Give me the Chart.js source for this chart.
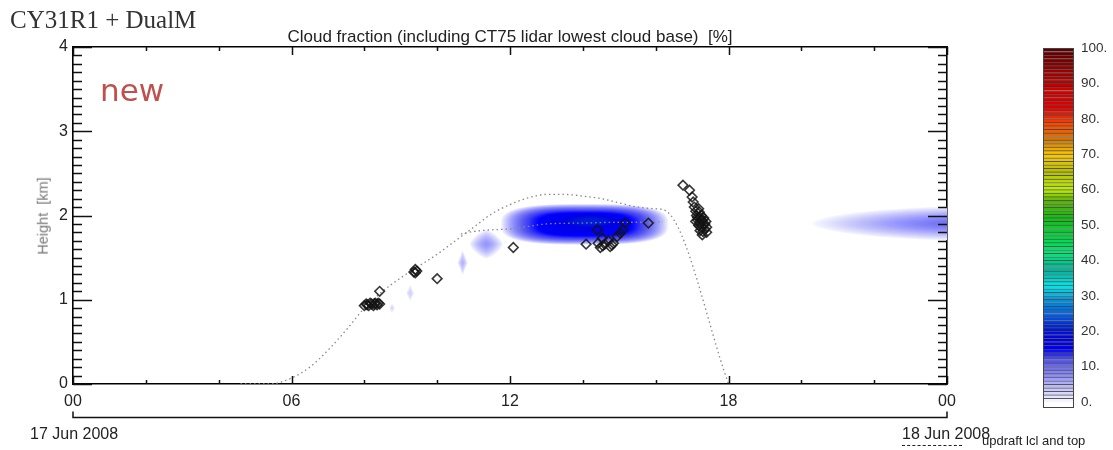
<!DOCTYPE html>
<html lang="en">
<head>
<meta charset="UTF-8">
<title>Cloud fraction</title>
<script src="https://cdn.jsdelivr.net/npm/chart.js"></script>
<style>
  body { margin: 0; background: #fff; }
  #wrap { position: relative; width: 1113px; height: 450px; font-family: "Liberation Sans", Arial, sans-serif; color: #222; overflow: hidden; }
  #main { position: absolute; left: 0; top: 0; }
  #cbar { position: absolute; left: 1000px; top: 0; }
  .txt { position: absolute; white-space: nowrap; }
  #model { left: 10px; top: 7px; font: 25px/25px "Liberation Serif", "Times New Roman", serif; color: #333; }
  #title { left: 510px; top: 28px; font-size: 17px; line-height: 17px; transform: translateX(-50%); }
  #tag { left: 100px; top: 75px; font: 31px/31px "DejaVu Sans", sans-serif; color: #c0504d; }
  #ylab { left: 43px; top: 216px; font-size: 14.5px; line-height: 14.5px; color: #777; transform: translate(-50%, -50%) rotate(-90deg); }
  #day1 { left: 30px; top: 426px; font-size: 16px; line-height: 16px; }
  #day2 { left: 902px; top: 426px; font-size: 16px; line-height: 16px; }
  #legline { position: absolute; left: 902px; top: 445px; width: 60px; border-top: 1px dashed #222; }
  #legtxt { left: 982px; top: 434px; font-size: 13px; line-height: 13px; }
</style>
</head>
<body>
<div id="wrap">
  <canvas id="main" width="1000" height="450"></canvas>
  <canvas id="cbar" width="113" height="450"></canvas>
  <div class="txt" id="model">CY31R1 + DualM</div>
  <div class="txt" id="title">Cloud fraction (including CT75 lidar lowest cloud base)&nbsp; [%]</div>
  <div class="txt" id="tag">new</div>
  <div class="txt" id="ylab">Height&nbsp; [km]</div>
  <div class="txt" id="day1">17 Jun 2008</div>
  <div class="txt" id="day2">18 Jun 2008</div>
  <div id="legline"></div>
  <div class="txt" id="legtxt">updraft lcl and top</div>
</div>

<script>
// axes
const hourTicks = [0, 6, 12, 18, 24];
const hourLabels = ['00', '06', '12', '18', '00'];
const heightTicks = [0, 1, 2, 3, 4];
const cbarTicks = [0, 10, 20, 30, 40, 50, 60, 70, 80, 90, 100];

// model cloud fraction patches (hour, km, %)
const cloudTime = [14.05, 14.2, 11.35, 10.7, 9.26, 8.76, 24.4];
const cloudHeight = [1.895, 1.93, 1.66, 1.44, 1.08, 0.9, 1.905];
const cloudHalfWidth = [2.3, 0.9, 0.46, 0.14, 0.11, 0.08, 4.1];
const cloudHalfDepth = [0.24, 0.09, 0.17, 0.15, 0.1, 0.06, 0.2];
const cloudPeak = [17, 21, 7, 5, 3, 2.5, 10];
const cloudBase = [0, 16, 0, 0, 0, 0, 0];

// lidar lowest cloud base
const baseTime = [8.0, 8.05, 8.08, 8.12, 8.16, 8.2, 8.25, 8.28, 8.3, 8.35, 8.38, 8.42, 8.42,
  9.36, 9.4, 9.44, 9.4, 10.0, 12.09,
  14.09, 14.4, 14.42, 14.53, 14.48, 14.6, 14.55, 14.75, 14.84, 14.7, 14.8, 14.94, 15.03, 15.1, 15.16, 15.8,
  16.75, 16.93, 17.0, 17.03, 17.06, 17.1, 17.2, 17.18, 17.12, 17.22, 17.25, 17.15, 17.28, 17.32,
  17.1, 17.2, 17.3, 17.35, 17.25, 17.18, 17.4, 17.35, 17.22, 17.3, 17.4, 17.28, 17.15, 17.38, 17.24];
const baseHeight = [0.93, 0.95, 0.94, 0.93, 0.96, 0.95, 0.93, 0.95, 0.96, 0.94, 0.96, 0.95, 1.10,
  1.33, 1.36, 1.34, 1.32, 1.25, 1.62,
  1.66, 1.83, 1.67, 1.73, 1.62, 1.66, 1.64, 1.63, 1.67, 1.7, 1.65, 1.75, 1.79, 1.83, 1.91, 1.91,
  2.36, 2.30, 2.22, 2.16, 2.10, 2.05, 2.04, 2.08, 2.00, 1.98, 2.0, 1.95, 1.94, 1.97,
  1.93, 1.91, 1.89, 1.9, 1.86, 1.88, 1.86, 1.84, 1.82, 1.81, 1.8, 1.77, 1.98, 1.93, 1.95];

// updraft top and lcl
const topTime = [4.6, 5.4, 6.0, 6.5, 7.0, 7.5, 8.0, 8.5, 9.0, 9.5, 10.0, 10.5, 11.0, 11.5, 12.0, 12.5, 13.0, 13.5, 14.0, 14.5, 15.0, 15.5, 16.0, 16.3, 18.0];
const topHeight = [0, 0, 0.07, 0.2, 0.4, 0.64, 0.9, 1.1, 1.26, 1.4, 1.54, 1.7, 1.86, 2.02, 2.13, 2.21, 2.25, 2.25, 2.23, 2.2, 2.15, 2.1, 2.08, 2.05, 0];
const lclTime = [10.65, 11.0, 11.5, 12.0, 12.5, 13.0, 14.0, 15.0, 16.0, 16.2];
const lclHeight = [1.78, 1.81, 1.83, 1.84, 1.87, 1.9, 1.91, 1.92, 1.92, 1.93];

// colour table
const cmapStops = [0, 2, 5, 7, 10, 13, 15, 18, 21, 25, 29, 33, 37, 42, 47, 52, 57, 60, 65, 70, 74, 78, 83, 88, 94, 100];
const cmapColors = [
  [250, 250, 255], [222, 222, 252], [180, 180, 250], [150, 150, 255], [110, 110, 240],
  [60, 60, 245], [0, 0, 255], [0, 0, 225], [0, 30, 215], [0, 100, 235],
  [0, 150, 220], [0, 235, 235], [0, 180, 160], [0, 230, 120], [0, 215, 60],
  [20, 190, 20], [90, 180, 0], [190, 240, 0], [180, 190, 0], [255, 200, 0],
  [210, 120, 0], [255, 80, 0], [225, 0, 0], [210, 0, 0], [150, 0, 0], [90, 0, 0]
];

function cmap(v) {
  let i = 0;
  while (i < cmapStops.length - 2 && v > cmapStops[i + 1]) i++;
  const f = Math.min(1, Math.max(0, (v - cmapStops[i]) / (cmapStops[i + 1] - cmapStops[i])));
  const a = cmapColors[i], b = cmapColors[i + 1];
  return 'rgb(' + a.map((c, k) => Math.round(c + (b[k] - c) * f)).join(',') + ')';
}

// edge = superellipse exponent, slope = how fast the value rises inside
const blobStyle = [
  { edge: 3, slope: 3.5 }, { edge: 2, slope: 2 }, { edge: 1.4, slope: 1.5 },
  { edge: 1, slope: 1.5 }, { edge: 1, slope: 1.5 }, { edge: 1, slope: 1.5 }, { edge: 1.8, slope: 1.4 }
];

const cloudField = {
  id: 'cloudField',
  beforeDatasetsDraw(chart) {
    const { ctx, chartArea: a, scales: { x, y } } = chart;
    ctx.save();
    ctx.beginPath();
    ctx.rect(a.left, a.top, a.right - a.left, a.bottom - a.top);
    ctx.clip();
    cloudTime.forEach((t, i) => {
      const cx = x.getPixelForValue(t);
      const cy = y.getPixelForValue(cloudHeight[i]);
      const rx = x.getPixelForValue(t + cloudHalfWidth[i]) - cx;
      const ry = cy - y.getPixelForValue(cloudHeight[i] + cloudHalfDepth[i]);
      const { edge, slope } = blobStyle[i];
      const lo = cloudBase[i], hi = cloudPeak[i], step = 0.25;
      for (let lev = lo; lev < hi - 1e-6; lev += step) {
        const s = Math.pow(1 - (lev - lo) / (hi - lo), 1 / slope);
        ctx.beginPath();
        for (let k = 0; k <= 72; k++) {
          const th = k / 72 * Math.PI * 2;
          const c = Math.cos(th), sn = Math.sin(th);
          const px = cx + rx * s * Math.sign(c) * Math.pow(Math.abs(c), 2 / edge);
          const py = cy + ry * s * Math.sign(sn) * Math.pow(Math.abs(sn), 2 / edge);
          k ? ctx.lineTo(px, py) : ctx.moveTo(px, py);
        }
        ctx.closePath();
        ctx.fillStyle = cmap(lev + step);
        ctx.fill();
      }
    });
    ctx.restore();
  }
};

// inward tick marks on all four sides, plus the date axis below
const frameTicks = {
  id: 'frameTicks',
  afterDraw(chart) {
    const { ctx, chartArea: a, scales: { x, y } } = chart;
    ctx.save();
    ctx.strokeStyle = '#111';
    ctx.lineWidth = 1.5;
    ctx.beginPath();
    for (let h = 0; h <= 24; h += 2) {
      const px = Math.round(x.getPixelForValue(h)) + 0.5;
      const len = h % 6 === 0 ? 8 : 4;
      ctx.moveTo(px, a.bottom); ctx.lineTo(px, a.bottom - len);
      ctx.moveTo(px, a.top); ctx.lineTo(px, a.top + len);
    }
    for (let i = 0; i <= 40; i++) {
      const py = Math.round(y.getPixelForValue(i / 10)) + 0.5;
      const len = i % 10 === 0 ? 19 : 9;
      ctx.moveTo(a.left, py); ctx.lineTo(a.left + len, py);
      ctx.moveTo(a.right, py); ctx.lineTo(a.right - len, py);
    }
    ctx.stroke();
    const yd = a.bottom + 33.5;
    const x0 = x.getPixelForValue(0), x1 = x.getPixelForValue(24);
    ctx.beginPath();
    ctx.moveTo(x0, yd - 6); ctx.lineTo(x0, yd); ctx.lineTo(x1, yd); ctx.lineTo(x1, yd - 6);
    ctx.stroke();
    ctx.restore();
  }
};

const axisFont = { family: '"Liberation Sans", Arial, sans-serif', size: 16 };
const frame = { display: true, color: '#000', width: 1.6 };
const noGrid = { display: false, drawTicks: false };

new Chart(document.getElementById('main'), {
  type: 'scatter',
  data: {
    datasets: [
      {
        label: 'lidar cloud base',
        data: baseTime.map((t, i) => ({ x: t, y: baseHeight[i] })),
        pointStyle: 'rectRot',
        pointRadius: 4.8,
        pointBorderWidth: 1.6,
        pointBorderColor: 'rgba(20,20,20,0.85)',
        pointBackgroundColor: 'rgba(0,0,0,0)'
      },
      {
        type: 'line',
        label: 'updraft lcl',
        data: lclTime.map((t, i) => ({ x: t, y: lclHeight[i] })),
        borderColor: '#8a8a8a',
        borderWidth: 1.3,
        borderDash: [1.5, 3],
        pointRadius: 0,
        cubicInterpolationMode: 'monotone'
      },
      {
        type: 'line',
        label: 'updraft top',
        data: topTime.map((t, i) => ({ x: t, y: topHeight[i] })),
        borderColor: '#8a8a8a',
        borderWidth: 1.3,
        borderDash: [1.5, 3],
        pointRadius: 0,
        cubicInterpolationMode: 'monotone'
      }
    ]
  },
  options: {
    responsive: false,
    animation: false,
    layout: { padding: 0 },
    plugins: { legend: { display: false }, tooltip: { enabled: false } },
    scales: {
      x: {
        type: 'linear', position: 'bottom', min: 0, max: 24,
        afterFit: s => { s.height = 66; },
        afterBuildTicks: s => { s.ticks = hourTicks.map(v => ({ value: v })); },
        ticks: { callback: (v, i) => hourLabels[i], font: axisFont, color: '#222', padding: 8, maxRotation: 0, autoSkip: false },
        grid: noGrid, border: frame
      },
      y: {
        type: 'linear', position: 'left', min: 0, max: 4,
        afterFit: s => { s.width = 73; },
        afterBuildTicks: s => { s.ticks = heightTicks.map(v => ({ value: v })); },
        ticks: { font: axisFont, color: '#222', padding: 5 },
        grid: noGrid, border: frame
      },
      x2: {
        type: 'linear', position: 'top', min: 0, max: 24,
        afterFit: s => { s.height = 47; },
        ticks: { display: false }, grid: noGrid, border: frame
      },
      y2: {
        type: 'linear', position: 'right', min: 0, max: 4,
        afterFit: s => { s.width = 53; },
        ticks: { display: false }, grid: noGrid, border: frame
      }
    }
  },
  plugins: [cloudField, frameTicks]
});

// colour bar: one floating bar per 1 % band
const bandLow = [];
for (let v = 0; v < 100; v++) bandLow.push(v);

const barFrame = {
  id: 'barFrame',
  afterDraw(chart) {
    const { ctx, chartArea: a } = chart;
    ctx.save();
    ctx.strokeStyle = '#444';
    ctx.lineWidth = 1;
    ctx.strokeRect(a.left + 0.5, a.top + 0.5, a.right - a.left - 1, a.bottom - a.top - 1);
    ctx.restore();
  }
};

new Chart(document.getElementById('cbar'), {
  type: 'bar',
  data: {
    labels: ['cf'],
    datasets: bandLow.map(v => ({
      data: [[v, v + 1]],
      backgroundColor: cmap(v + 0.5),
      borderColor: 'rgba(20,20,20,0.7)',
      borderWidth: { top: 1, bottom: 0, left: 0, right: 0 },
      borderSkipped: false,
      grouped: false,
      barPercentage: 1,
      categoryPercentage: 1
    }))
  },
  options: {
    responsive: false,
    animation: false,
    layout: { padding: { left: 43, top: 48, bottom: 42, right: 0 } },
    plugins: { legend: { display: false }, tooltip: { enabled: false } },
    scales: {
      x: { display: false },
      y: {
        position: 'right', min: -1.7, max: 100,
        afterFit: s => { s.width = 39; },
        afterBuildTicks: s => { s.ticks = cbarTicks.map(v => ({ value: v })); },
        ticks: { callback: v => v + '.', font: { family: axisFont.family, size: 13.5 }, color: '#333', padding: 7 },
        grid: noGrid, border: { display: false }
      }
    }
  },
  plugins: [barFrame]
});
</script>
</body>
</html>
